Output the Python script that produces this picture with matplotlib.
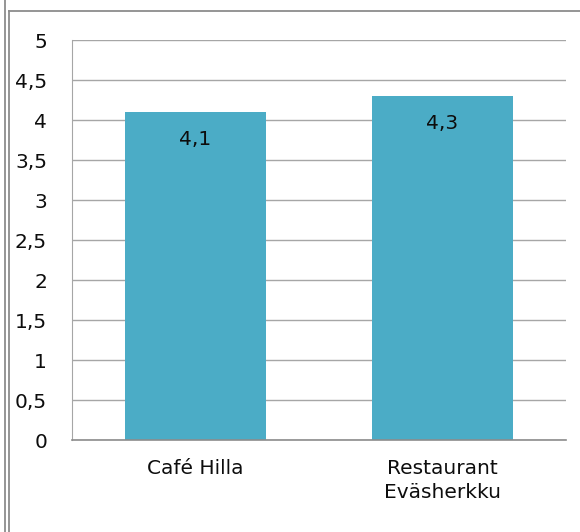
import matplotlib.pyplot as plt
from matplotlib.lines import Line2D
from matplotlib.ticker import FuncFormatter, MultipleLocator

# ratings per place
places = ["Café Hilla", "Restaurant\nEväsherkku"]
ratings = [4.1, 4.3]

bar_color = "#4BACC6"
grid_color = "#A6A6A6"
frame_color = "#8C8C8C"
text_color = "#0d0d0d"

plt.rcParams['font.family'] = ['DejaVu Sans']

fig = plt.figure(figsize=(5.8, 5.32), dpi=100)
ax = fig.add_axes([72 / 580, 92 / 532, 494 / 580, 400 / 532])

x = range(len(places))
ax.bar(x, ratings, width=0.57, color=bar_color, zorder=2)

for xi, v in zip(x, ratings):
    ax.annotate(f"{v}".replace(".", ","), (xi, v), xytext=(0, -20),
                textcoords="offset points", ha="center", va="center",
                fontsize=14.5, color=text_color, zorder=3)

ax.set_xlim(-0.5, 1.5)
ax.set_ylim(0, 5)
ax.yaxis.set_major_locator(MultipleLocator(0.5))
ax.yaxis.set_major_formatter(FuncFormatter(lambda v, p: f"{v:g}".replace(".", ",")))
ax.yaxis.grid(True, color=grid_color, linewidth=1, zorder=0)

ax.set_xticks(list(x))
ax.set_xticklabels(places, fontsize=14.5, color=text_color, linespacing=1.3)
ax.tick_params(axis="x", length=0, pad=14)
ax.tick_params(axis="y", length=0, pad=18, labelsize=14.5, labelcolor=text_color)

for side in ["top", "right"]:
    ax.spines[side].set_visible(False)
ax.spines["left"].set_color(grid_color)
ax.spines["bottom"].set_color("#8C8C8C")
ax.spines["bottom"].set_linewidth(1.2)

# chart frame: double line on the left, single line on top
w, h = 580, 532
fig.add_artist(Line2D([5 / w, 5 / w], [0, 1], color=frame_color, lw=1.3))
fig.add_artist(Line2D([9 / w, 9 / w], [0, 1 - 10.5 / h], color=frame_color, lw=1.3))
fig.add_artist(Line2D([9 / w, 1], [1 - 10.5 / h, 1 - 10.5 / h], color=frame_color, lw=1.3))

fig.savefig("out.png", dpi=100, facecolor="white")
